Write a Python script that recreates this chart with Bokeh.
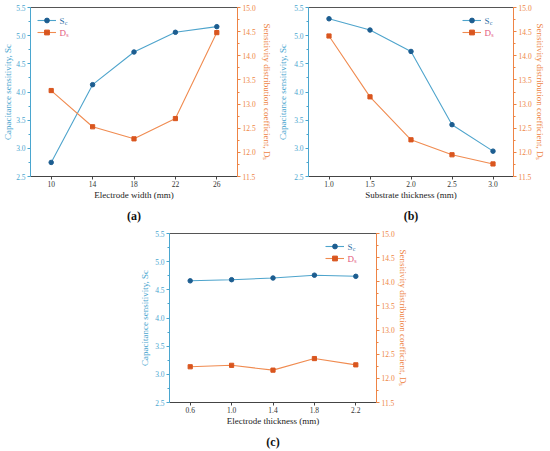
import math
from bokeh.plotting import figure
from bokeh.models import (Range1d, LinearAxis, FixedTicker, SingleIntervalTicker,
                          NumeralTickFormatter, Legend, LegendItem, Label, Spacer, Title)
from bokeh.layouts import column, row
from bokeh.embed import file_html
from bokeh.resources import INLINE
from bokeh.core.properties import value

# ---------------- data ----------------
a_x = [10, 14, 18, 22, 26]
a_sc = [2.75, 4.13, 4.71, 5.06, 5.16]
a_ds = [13.28, 12.53, 12.28, 12.70, 14.48]

b_x = [1.0, 1.5, 2.0, 2.5, 3.0]
b_sc = [5.30, 5.10, 4.72, 3.42, 2.95]
b_ds = [14.41, 13.15, 12.26, 11.95, 11.76]

c_x = [0.6, 1.0, 1.4, 1.8, 2.2]
c_sc = [4.66, 4.68, 4.71, 4.76, 4.74]
c_ds = [12.24, 12.27, 12.17, 12.41, 12.28]

x_titles = ["Electrode width (mm)", "Substrate thickness (mm)", "Electrode thickness (mm)"]
panel_tags = ["(a)", "(b)", "(c)"]
left_title = "Capacitance sensitivity, Sc"
right_title = "Sensitivity distribution coefficient, D\u209b"
legend_main = ["S", "D"]
legend_subs = ["c", "s"]

# ---------------- style ----------------
FONT = "Liberation Serif"
SC_LINE = "#4ea4cc"
SC_MARK = "#1c5d90"
DS_LINE = "#f08b50"
DS_MARK = "#d9561f"
LEFT_C = "#4aa6cf"
RIGHT_C = "#ee8445"
SC_TXT = "#2f6fa6"
DS_TXT = "#e4587c"
DARK = "#444444"


def style_axis(ax, color, label_color):
    ax.axis_line_color = color
    ax.axis_line_width = 1
    ax.major_tick_line_color = color
    ax.minor_tick_line_color = color
    ax.major_tick_out = 3
    ax.major_tick_in = 0
    ax.minor_tick_out = 2
    ax.minor_tick_in = 0
    ax.major_label_text_font = FONT
    ax.major_label_text_font_size = "7.5px"
    ax.major_label_text_color = label_color
    ax.major_label_standoff = 2
    ax.axis_label_text_font = FONT
    ax.axis_label_text_font_size = "9px"
    ax.axis_label_text_font_style = "normal"


def make_panel(xs, sc, ds, x_start, x_end, x_fmt, xtitle, tag, legend_right,
               fw, fh, mbl, mbr, mbt, mbb, ls_left, ls_right):
    p = figure(frame_width=fw, frame_height=fh, title=None,
               x_range=Range1d(x_start, x_end), y_range=Range1d(2.5, 5.5),
               output_backend="svg", toolbar_location=None,
               x_axis_type=None, y_axis_type=None,
               min_border_left=mbl, min_border_right=mbr,
               min_border_top=mbt, min_border_bottom=mbb)
    p.extra_y_ranges = {"ds": Range1d(11.5, 15.0)}
    p.outline_line_color = None
    p.background_fill_color = "white"
    p.border_fill_color = "white"

    # bottom axis
    xa = LinearAxis(ticker=FixedTicker(ticks=xs),
                    formatter=NumeralTickFormatter(format=x_fmt),
                    axis_label=xtitle)
    style_axis(xa, DARK, "#333333")
    xa.major_label_standoff = 1
    xa.axis_label_standoff = 0
    xa.axis_label_text_color = "#222222"
    p.add_layout(xa, "below")

    # panel tag below the axis
    p.add_layout(Title(text=tag, align="center", text_font=FONT, text_font_size="12px",
                       text_font_style="bold", text_color="#111111", standoff=9), "below")

    # top border
    ta = LinearAxis(ticker=FixedTicker(ticks=[]), major_label_text_font_size="0px",
                    major_tick_out=0, major_tick_in=0, minor_tick_out=0, minor_tick_in=0,
                    axis_line_color="#555555", major_label_standoff=0)
    p.add_layout(ta, "above")

    # left axis
    ya = LinearAxis(ticker=SingleIntervalTicker(interval=0.5, num_minor_ticks=2),
                    formatter=NumeralTickFormatter(format="0.0"),
                    axis_label=left_title)
    style_axis(ya, LEFT_C, LEFT_C)
    ya.axis_label_text_color = LEFT_C
    ya.axis_label_standoff = ls_left
    p.add_layout(ya, "left")

    # right axis
    ra = LinearAxis(y_range_name="ds",
                    ticker=SingleIntervalTicker(interval=0.5, num_minor_ticks=2),
                    formatter=NumeralTickFormatter(format="0.0"),
                    axis_label=right_title)
    style_axis(ra, RIGHT_C, RIGHT_C)
    ra.axis_label_text_color = RIGHT_C
    ra.axis_label_standoff = ls_right
    p.add_layout(ra, "right")

    # data
    l1 = p.line(xs, sc, line_color=SC_LINE, line_width=1.1)
    m1 = p.scatter(xs, sc, marker="circle", size=4.5, fill_color=SC_MARK, line_color=SC_MARK)
    l2 = p.line(xs, ds, y_range_name="ds", line_color=DS_LINE, line_width=1.1)
    m2 = p.scatter(xs, ds, y_range_name="ds", marker="square", size=4.2,
                   fill_color=DS_MARK, line_color=DS_MARK)

    leg = Legend(items=[LegendItem(label=value(" "), renderers=[l1, m1]),
                        LegendItem(label=value(" "), renderers=[l2, m2])],
                 location="top_right" if legend_right else "top_left",
                 margin=7, padding=0, spacing=0,
                 glyph_width=19, glyph_height=12, label_height=12,
                 label_width=22 if legend_right else 4, label_standoff=3,
                 border_line_color=None, background_fill_alpha=0,
                 label_text_font_size="6px")
    p.add_layout(leg)

    # legend texts (main letter + subscript)
    if legend_right:
        lx, base = x_end, -29
    else:
        lx, base = x_start, 29
    widths = [5.0, 6.5]
    cols = [SC_TXT, DS_TXT]
    for i in range(2):
        yo = -13 - 12 * i
        p.add_layout(Label(x=lx, y=5.5, x_offset=base + widths[i], y_offset=yo,
                           text=legend_main[i], text_align="right", text_baseline="middle",
                           text_font=FONT, text_font_size="9px", text_color=cols[i]))
        p.add_layout(Label(x=lx, y=5.5, x_offset=base + widths[i] + 0.3, y_offset=yo - 2.5,
                           text=legend_subs[i], text_align="left", text_baseline="middle",
                           text_font=FONT, text_font_size="6px", text_color=cols[i]))
    return p


pa = make_panel(a_x, a_sc, a_ds, 8, 28, "0", x_titles[0], panel_tags[0], False,
                207, 169, 30, 38, 7, 52, 0, 3)
pb = make_panel(b_x, b_sc, b_ds, 0.75, 3.25, "0.0", x_titles[1], panel_tags[1], True,
                205, 169, 33, 36, 7, 52, 3, 0)
pc = make_panel(c_x, c_sc, c_ds, 0.4, 2.4, "0.0", x_titles[2], panel_tags[2], True,
                207, 169, 34, 39, 5, 48, 2, 0)

layout = column(row(pa, pb), row(Spacer(width=135, height=222), pc))

with open("out.html", "w") as f:
    f.write(file_html(layout, INLINE))
